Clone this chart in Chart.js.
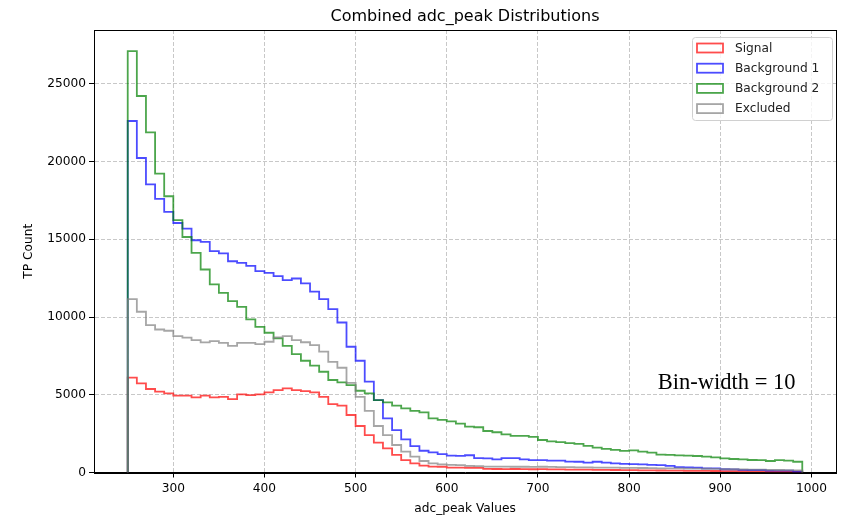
<!DOCTYPE html>
<html>
<head>
<meta charset="utf-8">
<script src="https://cdn.jsdelivr.net/npm/chart.js@4.4.0/dist/chart.umd.min.js"></script>
<style>
  body { margin: 0; background: #ffffff; }
</style>
</head>
<body>
<canvas id="grafica" width="843" height="518"></canvas>
<script>
// bin left edges, width 10 (250 .. 980), last bin ends at 990
const binStart = 250;
const binWidth = 10;

const signal = [6100, 5730, 5370, 5200, 5090, 4940, 4940, 4830, 4940, 4830,
    4870, 4720, 5020, 4980, 5020, 5150, 5300, 5410, 5300, 5240,
    5150, 4870, 4400, 4300, 3700, 2990, 2410, 1920, 1550, 1130,
    800, 590, 440, 380, 370, 310, 315, 305, 300, 230,
    225, 220, 225, 215, 210, 220, 205, 200, 190, 185,
    180, 170, 165, 160, 150, 150, 140, 135, 130, 120,
    115, 110, 100, 100, 95, 90, 85, 80, 75, 70,
    65, 60, 55, 50];

const background1 = [22610, 20230, 18540, 17600, 16760, 16050, 15690, 14940, 14840, 14240,
    14090, 13590, 13490, 13290, 12950, 12840, 12630, 12370, 12480, 12160,
    11640, 11150, 10510, 9650, 8090, 7190, 5840, 4660, 3480, 2730,
    2130, 1700, 1400, 1300, 1180, 1080, 1070, 1110, 930, 910,
    850, 930, 920, 846, 790, 790, 770, 760, 700, 690,
    640, 690, 630, 590, 550, 545, 525, 485, 480, 420,
    340, 330, 310, 270, 265, 210, 200, 165, 160, 160,
    120, 115, 115, 60];

const background2 = [27110, 24220, 21880, 19230, 17770, 16230, 15150, 14130, 13060, 12100,
    11560, 11020, 10660, 9850, 9370, 8990, 8630, 8150, 7620, 7190,
    6870, 6480, 5950, 5800, 5620, 5260, 5090, 4660, 4510, 4300,
    4130, 3970, 3870, 3480, 3390, 3290, 3140, 2950, 2910, 2670,
    2590, 2450, 2360, 2350, 2290, 2090, 2000, 1950, 1890, 1840,
    1710, 1600, 1520, 1460, 1390, 1420, 1340, 1280, 1150, 1130,
    1100, 1090, 1060, 1020, 975, 910, 870, 846, 805, 800,
    740, 790, 770, 690];

const excluded = [11150, 10340, 9480, 9200, 9120, 8770, 8670, 8520, 8370, 8450,
    8340, 8150, 8340, 8340, 8260, 8410, 8690, 8770, 8520, 8380,
    8190, 7770, 7120, 6740, 5770, 4870, 3970, 2990, 2410, 1770,
    1340, 1020, 740, 590, 525, 485, 480, 420, 415, 380,
    375, 375, 370, 370, 365, 370, 360, 350, 340, 335,
    330, 320, 320, 310, 300, 300, 290, 280, 270, 265,
    260, 255, 250, 240, 230, 220, 210, 200, 190, 180,
    170, 160, 150, 140];

const seriesNames = ['Signal', 'Background 1', 'Background 2', 'Excluded'];
const seriesColors = ['rgba(255,0,0,0.7)', 'rgba(0,0,255,0.7)', 'rgba(0,128,0,0.7)', 'rgba(128,128,128,0.7)'];

const xTicks = [300, 400, 500, 600, 700, 800, 900, 1000];
const yTicks = [0, 5000, 10000, 15000, 20000, 25000];

const titulo = 'Combined adc_peak Distributions';
const xLabel = 'adc_peak Values';
const yLabel = 'TP Count';
const nota = 'Bin-width = 10';

// histograma tipo "step": empieza y termina en 0
function stepPoints(values) {
    const pts = [{ x: binStart, y: 0 }];
    values.forEach((v, i) => {
        pts.push({ x: binStart + i * binWidth, y: v });
    });
    pts.push({ x: binStart + values.length * binWidth, y: 0 });
    return pts;
}

const allSeries = [signal, background1, background2, excluded];
const maxCount = Math.max(...allSeries.map(s => Math.max(...s)));
const lastEdge = binStart + signal.length * binWidth;
const xPad = (lastEdge - binStart) * 0.05;

const datasets = allSeries.map((s, i) => ({
    label: seriesNames[i],
    data: stepPoints(s),
    borderColor: seriesColors[i],
    backgroundColor: 'transparent',
    borderWidth: 1.8,
    pointRadius: 0,
    fill: false,
    stepped: 'before',
    order: 3 - i
}));

const font = '"DejaVu Sans", sans-serif';

const extras = {
    id: 'extras',
    afterDatasetsDraw(chart) {
        const { ctx, chartArea: a, scales } = chart;
        ctx.save();
        // marco
        ctx.strokeStyle = '#000';
        ctx.lineWidth = 1;
        ctx.strokeRect(Math.round(a.left) + 0.5, Math.round(a.top) + 0.5,
            Math.round(a.right - a.left), Math.round(a.bottom - a.top));

        // titulo
        ctx.fillStyle = '#000';
        ctx.font = '16px ' + font;
        ctx.textAlign = 'center';
        ctx.textBaseline = 'middle';
        ctx.fillText(titulo, (a.left + a.right) / 2, 17);

        // nota
        ctx.font = '22.5px "Liberation Serif", "Times New Roman", serif';
        ctx.fillText(nota, scales.x.getPixelForValue(907), scales.y.getPixelForValue(5750));

        // leyenda
        const lx = a.right - 144, ly = a.top + 7, lw = 140, lh = 83;
        ctx.beginPath();
        ctx.roundRect(lx + 0.5, ly + 0.5, lw, lh, 3);
        ctx.fillStyle = 'rgba(255,255,255,0.8)';
        ctx.fill();
        ctx.strokeStyle = '#d0d0d0';
        ctx.lineWidth = 1;
        ctx.stroke();
        ctx.font = '12.2px ' + font;
        ctx.textAlign = 'left';
        seriesNames.forEach((name, i) => {
            const cy = ly + 11 + i * 20.2;
            ctx.strokeStyle = seriesColors[i];
            ctx.lineWidth = 1.8;
            ctx.strokeRect(lx + 5, cy - 4.5, 26, 9);
            ctx.fillStyle = '#222';
            ctx.fillText(name, lx + 43, cy + 0.5);
        });
        ctx.restore();
    }
};

new Chart(document.getElementById('grafica'), {
    type: 'line',
    data: { datasets },
    options: {
        responsive: false,
        animation: false,
        devicePixelRatio: 1,
        layout: { padding: { top: 30, right: 7, left: 0, bottom: 0 } },
        plugins: { legend: { display: false }, tooltip: { enabled: false } },
        scales: {
            x: {
                type: 'linear',
                min: binStart - xPad,
                max: lastEdge + xPad,
                afterBuildTicks: s => { s.ticks = xTicks.map(v => ({ value: v })); },
                afterFit: s => { s.height = 45.5; },
                grid: { color: 'rgba(176,176,176,0.7)', tickColor: '#000', tickLength: 5, lineWidth: 1 },
                border: { color: '#000', dash: [4, 2] },
                ticks: { color: '#000', font: { family: font, size: 12.2 }, padding: 4, maxRotation: 0, callback: v => String(v) },
                title: { display: true, text: xLabel, color: '#000', font: { family: font, size: 12.2 }, padding: { top: 0, bottom: 2 } }
            },
            y: {
                min: 0,
                max: maxCount * 1.05,
                afterBuildTicks: s => { s.ticks = yTicks.map(v => ({ value: v })); },
                afterFit: s => { s.width = 94; },
                grid: { color: 'rgba(176,176,176,0.7)', tickColor: '#000', tickLength: 5, lineWidth: 1 },
                border: { color: '#000', dash: [4, 2] },
                ticks: { color: '#000', font: { family: font, size: 12.2 }, padding: 3, callback: v => String(v) },
                title: { display: true, text: yLabel, color: '#000', font: { family: font, size: 12.2 }, padding: { top: 22, bottom: 0 } }
            }
        }
    },
    plugins: [extras]
});
</script>
</body>
</html>
